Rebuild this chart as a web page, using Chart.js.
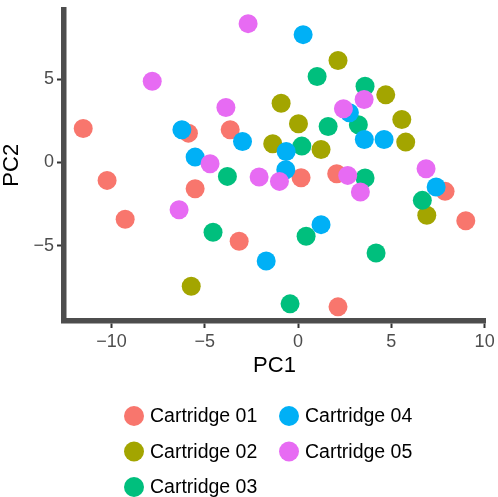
<!DOCTYPE html>
<html>
<head>
<meta charset="utf-8">
<script src="https://cdn.jsdelivr.net/npm/chart.js@4"></script>
<style>
  html, body { margin: 0; padding: 0; background: #fff; }
  #wrap { width: 498px; height: 497px; }
</style>
</head>
<body>
<div id="wrap"><canvas id="pcaChart"></canvas></div>
<script>
const seriesNames = ["Cartridge 01", "Cartridge 02", "Cartridge 03", "Cartridge 04", "Cartridge 05"];
const seriesColors = ['#F8766D', '#A3A500', '#00BF7D', '#00B0F6', '#E76BF3'];

const cart01 = [
  [-11.52, 2.04], [-10.24, -1.08], [-9.27, -3.42], [-5.88, 1.76], [-5.52, -1.58], [-3.64, 1.96],
  [-3.16, -4.74], [0.16, -0.92], [2.07, -0.68], [2.14, -8.68], [7.88, -1.74], [8.99, -3.51]
];
const cart02 = [
  [-5.73, -7.44], [-0.91, 3.56], [0.02, 2.32], [-1.36, 1.12], [1.23, 0.78],
  [2.14, 6.12], [4.70, 4.06], [5.56, 2.58], [5.77, 1.22], [6.90, -3.18]
];
const cart03 = [
  [-3.79, -0.84], [-4.56, -4.20], [1.02, 5.16], [3.59, 4.58], [1.61, 2.16], [3.23, 2.26],
  [0.20, 0.98], [3.59, -0.94], [6.66, -2.28], [0.43, -4.44], [4.18, -5.44], [-0.43, -8.50]
];
const cart04 = [
  [-6.23, 1.96], [-5.52, 0.32], [-2.98, 1.26], [0.27, 7.68], [-0.64, 0.66], [-0.66, -0.44],
  [2.75, 2.98], [3.55, 1.38], [4.61, 1.38], [7.40, -1.48], [1.23, -3.74], [-1.71, -5.92]
];
const cart05 = [
  [-2.68, 8.34], [-7.82, 4.88], [-3.87, 3.30], [-4.72, -0.08], [-6.38, -2.84], [-2.09, -0.88],
  [-1.00, -1.14], [2.43, 3.22], [3.54, 3.78], [2.66, -0.78], [3.34, -1.78], [6.86, -0.38]
];
const allSeries = [cart01, cart02, cart03, cart04, cart05];

const xTicks = [-10, -5, 0, 5, 10];
const yTicks = [-5, 0, 5];

const fontFamily = "'Liberation Sans', Arial, Helvetica, sans-serif";
const minusFmt = (v) => (v < 0 ? '\u2212' + Math.abs(v) : String(v));

// ggplot-style legend: two columns, filled column by column
const legendPlugin = {
  id: 'ggLegend',
  afterDraw(chart) {
    const ctx = chart.ctx;
    ctx.save();
    ctx.font = '19.5px ' + fontFamily;
    ctx.textBaseline = 'middle';
    ctx.textAlign = 'left';
    chart.data.datasets.forEach((ds, i) => {
      const col = Math.floor(i / 3);
      const row = i % 3;
      const cx = 134 + col * 155;
      const cy = 416 + row * 35.5;
      ctx.beginPath();
      ctx.arc(cx, cy, 10, 0, Math.PI * 2);
      ctx.fillStyle = ds.backgroundColor;
      ctx.fill();
      ctx.fillStyle = '#000';
      ctx.fillText(ds.label, cx + 16, cy + 1);
    });
    ctx.restore();
  }
};

const datasets = allSeries.map((pts, i) => ({
  label: seriesNames[i],
  data: pts.map(p => ({ x: p[0], y: p[1] })),
  backgroundColor: seriesColors[i],
  borderWidth: 0,
  pointRadius: 9.5,
  pointHoverRadius: 9.5,
  order: allSeries.length - i,
}));

new Chart(document.getElementById('pcaChart'), {
  type: 'scatter',
  data: { datasets },
  options: {
    responsive: true,
    maintainAspectRatio: false,
    animation: false,
    layout: { padding: { top: 9, right: 13, left: 0, bottom: 120 } },
    plugins: { legend: { display: false }, tooltip: { enabled: false } },
    scales: {
      x: {
        min: -12.55,
        max: 10.02,
        afterBuildTicks: (scale) => { scale.ticks = xTicks.map(v => ({ value: v })); },
        afterFit: (scale) => {
          scale.height = 56;
          scale.paddingLeft = 0;
          scale.paddingRight = 0;
        },
        grid: { drawOnChartArea: false, tickLength: 7, tickColor: '#333333', tickWidth: 2 },
        border: { color: '#4d4d4d', width: 5.5 },
        ticks: {
          color: '#4d4d4d', padding: 3, maxRotation: 0,
          font: { family: fontFamily, size: 18 },
          callback: minusFmt,
        },
        title: {
          display: true, text: 'PC1', color: '#000', padding: 0,
          font: { family: fontFamily, size: 22, lineHeight: 1 },
        },
      },
      y: {
        min: -9.53,
        max: 9.19,
        afterBuildTicks: (scale) => { scale.ticks = yTicks.map(v => ({ value: v })); },
        afterFit: (scale) => {
          scale.width = 64;
          scale.paddingTop = 0;
          scale.paddingBottom = 0;
        },
        grid: { drawOnChartArea: false, tickLength: 7, tickColor: '#333333', tickWidth: 2 },
        border: { color: '#4d4d4d', width: 5.5 },
        ticks: {
          color: '#4d4d4d', padding: 3,
          font: { family: fontFamily, size: 18 },
          callback: minusFmt,
        },
        title: {
          display: true, text: 'PC2', color: '#000', padding: { top: 1, bottom: 0 },
          font: { family: fontFamily, size: 22, lineHeight: 1 },
        },
      },
    },
  },
  plugins: [legendPlugin],
});
</script>
</body>
</html>
